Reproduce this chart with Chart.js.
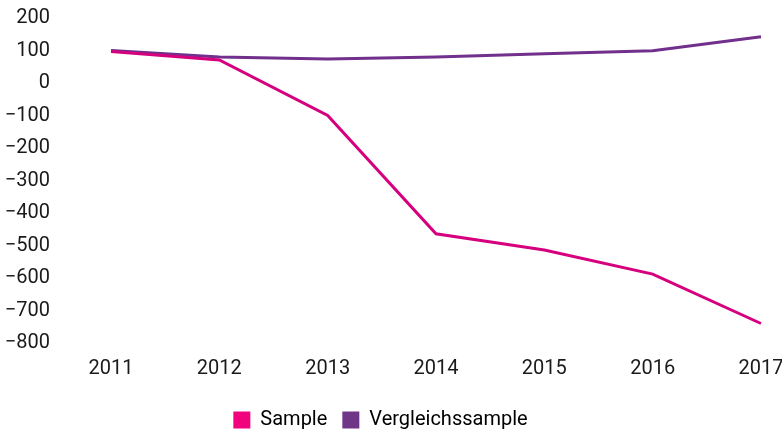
<!DOCTYPE html>
<html>
<head>
<meta charset="utf-8">
<script src="https://cdn.jsdelivr.net/npm/chart.js@4"></script>
<style>
  html, body { margin: 0; padding: 0; background: #fff; }
  #wrap { width: 782px; height: 430px; }
</style>
</head>
<body>
<div id="wrap"><canvas id="chart"></canvas></div>
<script>
// Daten
const years = ['2011', '2012', '2013', '2014', '2015', '2016', '2017'];
const sample = [97, 71, -100, -464, -514, -588, -740];
const vergleich = [100, 80, 74, 80, 90, 99, 142];
const yTicks = [200, 100, 0, -100, -200, -300, -400, -500, -600, -700, -800];

const FONT = "Roboto, 'Liberation Sans', sans-serif";

const ctx = document.getElementById('chart').getContext('2d');
new Chart(ctx, {
    type: 'line',
    data: {
        labels: years,
        datasets: [
            {
                label: 'Sample',
                data: sample,
                borderColor: '#d6007f',
                backgroundColor: '#f0037c',
                borderWidth: 3,
                pointRadius: 0,
                tension: 0
            },
            {
                label: 'Vergleichssample',
                data: vergleich,
                borderColor: '#70308c',
                backgroundColor: '#6f3587',
                borderWidth: 3,
                pointRadius: 0,
                tension: 0
            }
        ]
    },
    options: {
        responsive: true,
        maintainAspectRatio: false,
        animation: false,
        layout: { padding: { top: 18, right: 21, bottom: -10, left: 0 } },
        scales: {
            x: {
                offset: false,
                grid: { display: false, drawTicks: false },
                border: { display: false },
                afterFit: (scale) => { scale.paddingLeft = 0; scale.paddingRight = 0; },
                ticks: {
                    color: '#1a1a1a',
                    font: { family: FONT, size: 20 },
                    padding: 14,
                    maxRotation: 0,
                    autoSkip: false
                }
            },
            y: {
                min: -800,
                max: 200,
                grid: { display: false, drawTicks: false },
                border: { display: false },
                afterFit: (scale) => {
                    scale.width = 111;
                    scale.paddingTop = 0;
                    scale.paddingBottom = 0;
                },
                afterBuildTicks: (scale) => { scale.ticks = yTicks.map(v => ({ value: v })); },
                ticks: {
                    color: '#1a1a1a',
                    font: { family: FONT, size: 20 },
                    padding: 61,
                    autoSkip: false,
                    callback: (v) => String(v).replace('-', '\u2212')
                }
            }
        },
        plugins: {
            legend: {
                position: 'bottom',
                labels: {
                    color: '#1a1a1a',
                    font: { family: FONT, size: 20 },
                    boxWidth: 17,
                    boxHeight: 17,
                    padding: 15,
                    generateLabels: (chart) => chart.data.datasets.map((ds, i) => ({
                        text: ds.label,
                        fillStyle: ds.backgroundColor,
                        strokeStyle: ds.backgroundColor,
                        lineWidth: 0,
                        datasetIndex: i,
                        hidden: false
                    }))
                }
            },
            tooltip: { enabled: false }
        }
    }
});
</script>
</body>
</html>
